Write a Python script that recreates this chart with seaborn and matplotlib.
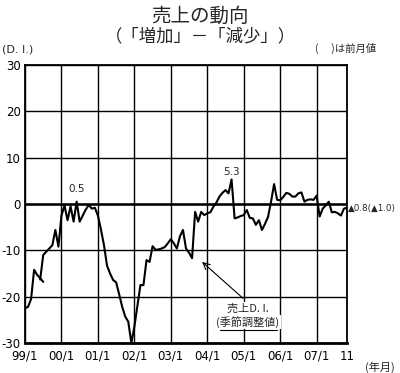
import numpy as np
import pandas as pd
import matplotlib
matplotlib.use('Agg')
import matplotlib.pyplot as plt
import seaborn as sns
from matplotlib import font_manager
from matplotlib.lines import Line2D

# ---------------- data ----------------
# 1999/1 - 1999/7 (earlier branch)
di_early = [-22.5, -22.2, -20.5, -14.2, -15.3, -16.0, -16.8]
# 1999/6 - 2007/11 monthly, seasonally adjusted sales D.I.
di_main = [-16.3, -11.0, -10.3, -9.6, -8.9, -5.6, -9.2,
           -2.5, -0.3, -3.5, -0.5, -3.8, 0.5, -3.8, -2.5, -1.2, -0.2, -1.0, -0.8,
           -2.5, -5.5, -8.9, -13.3, -15.0, -16.4, -16.9, -19.5, -22.2, -24.3, -25.4, -30.0,
           -26.5, -22.0, -17.5, -17.5, -12.1, -12.5, -9.1, -9.9, -9.8, -9.6, -9.3, -8.5,
           -7.6, -8.5, -9.6, -7.0, -5.6, -9.6, -10.5, -11.7, -1.7, -3.8, -1.7, -2.4,
           -2.0, -1.8, -0.6, 0.3, 1.6, 2.4, 3.0, 2.3, 5.3, -3.1, -2.9, -2.6,
           -2.4, -1.3, -3.0, -3.1, -4.5, -3.5, -5.6, -4.3, -2.8, 0.5, 4.3, 0.9,
           0.8, 1.5, 2.4, 2.2, 1.6, 1.6, 2.3, 2.5, 0.5, 0.9, 1.0, 0.9,
           1.8, -2.7, -1.0, -0.3, 0.5, -1.8, -1.7, -2.0, -2.5, -1.0, -0.8]
tick_labels = ['99/1', '00/1', '01/1', '02/1', '03/1', '04/1', '05/1', '06/1', '07/1', '11']
y_ticks = [-30, -20, -10, 0, 10, 20, 30]

x_early = 1999 + np.arange(len(di_early)) / 12
x_main = 1999 + (5 + np.arange(len(di_main))) / 12
df_early = pd.DataFrame({'x': x_early, 'di': di_early})
df_main = pd.DataFrame({'x': x_main, 'di': di_main})
x_end = 1999 + 106 / 12
x_ticks = [1999 + k for k in range(9)] + [x_end]

# ---------------- style ----------------
sns.set_theme(style='white')
names = {f.name for f in font_manager.fontManager.ttflist}
narrow = 'Liberation Sans Narrow' if 'Liberation Sans Narrow' in names else 'DejaVu Sans'
plt.rcParams['font.family'] = [narrow, 'Noto Sans CJK JP', 'DejaVu Sans']
JP = ['Noto Sans CJK JP', 'DejaVu Sans']

W, H = 400, 373
fig = plt.figure(figsize=(W / 100, H / 100), dpi=100)
fig.patch.set_facecolor('white')
L, R, T, B = 25, 347, 65, 343
ax = fig.add_axes([L / W, 1 - B / H, (R - L) / W, (B - T) / H])

sns.lineplot(data=df_early, x='x', y='di', color='black', lw=1.5, ax=ax, zorder=5)
sns.lineplot(data=df_main, x='x', y='di', color='black', lw=1.5, ax=ax, zorder=5)

ax.set_xlim(1999, x_end)
ax.set_ylim(-30, 30)
ax.set_xticks(x_ticks)
ax.set_xticklabels(tick_labels)
ax.set_yticks(y_ticks)
ax.set_yticklabels([str(v) for v in y_ticks])
ax.set_xlabel('')
ax.set_ylabel('')
ax.grid(True, color='black', lw=1.0)
ax.axhline(0, color='black', lw=1.8, zorder=4)
ax.tick_params(length=0, labelsize=8.5, colors='black')
ax.tick_params(axis='x', pad=5)
ax.tick_params(axis='y', pad=3)
for s in ax.spines.values():
    s.set_color('black')
    s.set_linewidth(1.3)
ax.spines['bottom'].set_linewidth(2.0)

def px(x, y):
    return x / W, 1 - y / H

# titles
fig.text(*px(200, 16), '売上の動向', ha='center', va='center', fontsize=14, family=JP)
fig.text(*px(200, 36), '（「増加」－「減少」）', ha='center', va='center', fontsize=12.5, family=JP)
fig.text(*px(2, 50), '(D. I.)', ha='left', va='center', fontsize=8)
fig.text(*px(376, 48), '(\u3000 )は前月値', ha='right', va='center', fontsize=7.5, family=JP)
fig.text(*px(395, 367), '(年月)', ha='right', va='center', fontsize=8, family=JP)

# value labels
ax.text(1999 + 17 / 12, 2.2, '0.5', ha='center', va='bottom', fontsize=7.5)
ax.text(1999 + 68 / 12, 5.9, '5.3', ha='center', va='bottom', fontsize=7.5)
fig.text(*px(348, 208), '▲0.8(▲1.0)', ha='left', va='center', fontsize=6.3)

# annotation
ax.annotate('', xy=(1999 + (200 - L) / 36.45, -(260 - 204) / 4.63),
            xytext=(1999 + (245 - L) / 36.45, -(300 - 204) / 4.63),
            arrowprops=dict(arrowstyle='->', color='black', lw=0.8), zorder=6)
fig.text(*px(248, 309), '売上D. I.', ha='center', va='center', fontsize=8,
         family=JP, bbox=dict(facecolor='white', edgecolor='none', pad=1.5), zorder=7)
fig.text(*px(248, 322), '(季節調整値)', ha='center', va='center', fontsize=8,
         family=JP, bbox=dict(facecolor='white', edgecolor='none', pad=1.0), zorder=7)
fig.add_artist(Line2D([220 / W, 277 / W], [1 - 330 / H, 1 - 330 / H], color='black', lw=0.8))

fig.savefig('out.png', dpi=100, facecolor='white')
